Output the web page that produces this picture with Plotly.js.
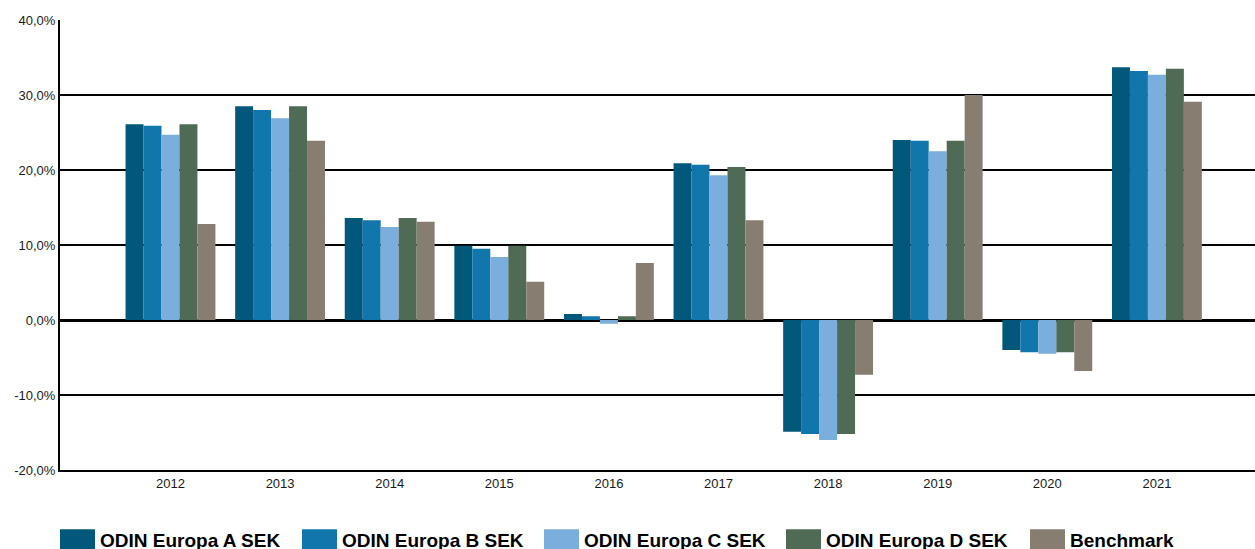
<!DOCTYPE html>
<html>
<head>
<meta charset="utf-8">
<script src="https://cdn.plot.ly/plotly-3.0.1.min.js"></script>
<style>
html,body{margin:0;padding:0;background:#fff;}
#chart{width:1255px;height:549px;}
</style>
</head>
<body>
<div id="chart"></div>
<script>
var years = ["2012","2013","2014","2015","2016","2017","2018","2019","2020","2021"];
var seriesNames = ["ODIN Europa A SEK","ODIN Europa B SEK","ODIN Europa C SEK","ODIN Europa D SEK","Benchmark"];
var odinA = [26.1, 28.5, 13.6, 9.9, 0.8, 20.9, -14.9, 24.0, -4.0, 33.7];
var odinB = [25.9, 28.0, 13.3, 9.5, 0.5, 20.7, -15.2, 23.9, -4.3, 33.2];
var odinC = [24.7, 26.9, 12.4, 8.4, -0.5, 19.3, -16.0, 22.5, -4.5, 32.7];
var odinD = [26.1, 28.5, 13.6, 9.9, 0.5, 20.4, -15.2, 23.9, -4.3, 33.5];
var bench = [12.8, 23.9, 13.1, 5.1, 7.6, 13.3, -7.3, 30.0, -6.8, 29.1];
var colors = ["#02587a","#1076ab","#7aaedd","#506b55","#877e71"];
var yTickVals = [-20, -10, 0, 10, 20, 30, 40];
var yTickText = ["-20,0%","-10,0%","0,0%","10,0%","20,0%","30,0%","40,0%"];

var allSeries = [odinA, odinB, odinC, odinD, bench];
var traces = allSeries.map(function(vals, i){
  return {
    type: "bar",
    name: seriesNames[i],
    x: years,
    y: vals,
    marker: {color: colors[i], line: {width: 0}},
    hoverinfo: "none",
    legend: i < 4 ? "legend" : "legend2"
  };
});

var legendFont = {family: "Liberation Sans, Arial, sans-serif", size: 19, color: "#000000", weight: "bold"};

var layout = {
  width: 1255,
  height: 549,
  margin: {l: 60, r: 0, t: 20, b: 79, autoexpand: false},
  paper_bgcolor: "#ffffff",
  plot_bgcolor: "#ffffff",
  barmode: "group",
  bargap: 0.18,
  bargroupgap: 0,
  showlegend: true,
  font: {family: "Liberation Sans, Arial, sans-serif", size: 13, color: "#1a1a1a"},
  xaxis: {
    type: "category",
    range: [-1.008, 9.895],
    showgrid: false,
    showline: true,
    linecolor: "#000000",
    linewidth: 2,
    ticks: "",
    tickfont: {size: 13, color: "#1a1a1a"},
    fixedrange: true
  },
  yaxis: {
    range: [-20, 40],
    tickvals: yTickVals,
    ticktext: yTickText,
    showgrid: true,
    gridcolor: "#000000",
    gridwidth: 2,
    zeroline: true,
    zerolinecolor: "#000000",
    zerolinewidth: 3,
    showline: true,
    linecolor: "#000000",
    linewidth: 2,
    ticks: "",
    tickfont: {size: 13, color: "#1a1a1a"},
    fixedrange: true
  },
  legend: {
    orientation: "h",
    x: 0,
    xanchor: "left",
    y: -0.112,
    yanchor: "top",
    entrywidth: 197,
    entrywidthmode: "pixels",
    font: legendFont,
    traceorder: "normal",
    bgcolor: "rgba(0,0,0,0)",
    borderwidth: 0
  },
  legend2: {
    orientation: "h",
    x: 0.8117,
    xanchor: "left",
    y: -0.112,
    yanchor: "top",
    font: legendFont,
    bgcolor: "rgba(0,0,0,0)",
    borderwidth: 0
  }
};

Plotly.newPlot("chart", traces, layout, {displayModeBar: false, staticPlot: true}).then(function(){
  var paths = document.querySelectorAll(".legendpoints path");
  paths.forEach(function(p){ p.setAttribute("d", "M15,10H-20V-10H15Z"); });
});
</script>
</body>
</html>
